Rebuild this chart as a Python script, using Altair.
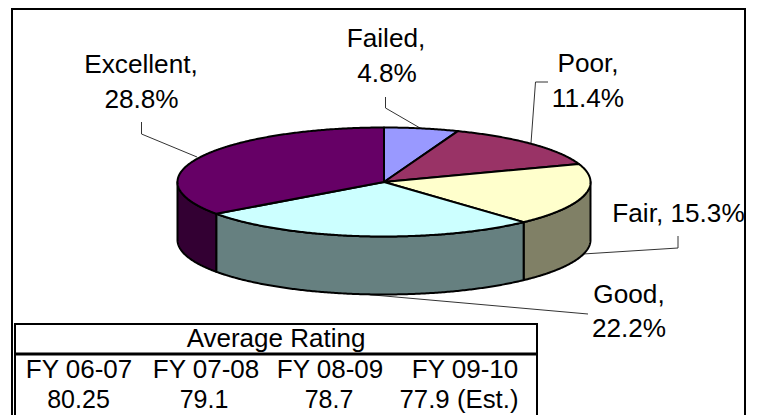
import math
import altair as alt
import pandas as pd

# --- chart values ---
names = ["Failed", "Poor", "Fair", "Good", "Excellent"]
shares = [4.8, 11.4, 15.3, 22.2, 28.8]
top_colors = ["#9999FF", "#993366", "#FFFFCC", "#CCFFFF", "#660066"]
side_colors = ["#4D4D80", "#4D1A33", "#808066", "#668080", "#330033"]
table_title = "Average Rating"
table_years = ["FY 06-07", "FY 07-08", "FY 08-09", "FY 09-10"]
table_values = ["80.25", "79.1", "78.7", "77.9 (Est.)"]

# --- layout (page pixels of the picture) ---
W, H = 741, 407
CX, CY, RX, RY, DEPTH = 384, 182, 206.5, 54.5, 58
x_scale = alt.Scale(domain=[8, 8 + W], range=[0, W], nice=False, zero=False)
y_scale = alt.Scale(domain=[8, 8 + H], range=[0, H], nice=False, zero=False)
X = lambda f="x": alt.X(f"{f}:Q", scale=x_scale, axis=None)
Y = lambda f="y": alt.Y(f"{f}:Q", scale=y_scale, axis=None)


def rim(deg, drop=0.0):
    a = math.radians(deg)
    return CX + RX * math.sin(a), CY - RY * math.cos(a) + drop


def arc_degrees(a, b):
    n = max(2, int(abs(b - a) * 2))
    return [a + (b - a) * k / n for k in range(n + 1)]


def polygon(points, color, width=2.0):
    df = pd.DataFrame(points, columns=["x", "y"]).reset_index(names="i")
    return alt.Chart(df).mark_line(
        fill=color, stroke="black", strokeWidth=width,
        interpolate="linear-closed", strokeJoin="round", clip=False,
    ).encode(x=X(), y=Y(), order="i:Q")


def polyline(points, color="#333333", width=1.0):
    df = pd.DataFrame(points, columns=["x", "y"]).reset_index(names="i")
    return alt.Chart(df).mark_line(color=color, strokeWidth=width).encode(
        x=X(), y=Y(), order="i:Q")


total = sum(shares)
edges = [0.0]
for s in shares:
    edges.append(edges[-1] + 360 * s / total)

layers = []

# frame
layers.append(polyline([(12, 420), (12, 9), (745, 9), (745, 420)], "black", 2))
layers.append(polyline([(15, 420), (15, 324), (537, 324), (537, 420)], "black", 2))
layers.append(polyline([(15, 354), (537, 354)], "black", 3))

# leader lines
leaders = [
    [(385.5, 97), (385.5, 108), (420, 128)],
    [(531, 143), (535.5, 82), (548, 82)],
    [(583, 254), (678, 248), (678, 236)],
    [(362, 294), (588, 314)],
    [(141.5, 122), (141.5, 134), (197, 157)],
]
for pts in leaders:
    layers.append(polyline(pts))

# side walls (only the part of each slice that faces the viewer)
for i in range(len(shares)):
    a, b = max(edges[i], 90), min(edges[i + 1], 270)
    if b > a:
        degs = arc_degrees(a, b)
        pts = [rim(d) for d in degs] + [rim(d, DEPTH) for d in reversed(degs)]
        layers.append(polygon(pts, side_colors[i]))

# top faces
for i in range(len(shares)):
    pts = [(CX, CY)] + [rim(d) for d in arc_degrees(edges[i], edges[i + 1])]
    layers.append(polygon(pts, top_colors[i]))

# texts
LABEL, CELL = 26.2, 26
text_rows = [
    (f"{names[0]},", 386, 47, LABEL), (f"{shares[0]}%", 387, 82, LABEL),
    (f"{names[1]},", 588, 72, LABEL), (f"{shares[1]}%", 588, 107, LABEL),
    (f"{names[2]}, {shares[2]}%", 678.5, 222, LABEL),
    (f"{names[3]},", 629, 303, LABEL), (f"{shares[3]}%", 629, 337, LABEL),
    (f"{names[4]},", 141, 73, LABEL), (f"{shares[4]}%", 141.5, 108, LABEL),
    (table_title, 276, 347, CELL),
]
for t, cx in zip(table_years, [79, 206, 330, 465]):
    text_rows.append((t, cx, 378, CELL))
for t, cx, sz in zip(table_values, [78.5, 204, 329, 459], [25, 25, 25, 25.8]):
    text_rows.append((t, cx, 408, sz))
text_df = pd.DataFrame(text_rows, columns=["t", "x", "y", "s"])
layers.append(
    alt.Chart(text_df).mark_text(
        font="Liberation Sans", align="center", baseline="alphabetic", color="black"
    ).encode(x=X(), y=Y(), text="t:N", size=alt.Size("s:Q", scale=None, legend=None))
)

chart = alt.layer(*layers).properties(
    width=W, height=H, padding=0, autosize=alt.AutoSizeParams(type="none"),
    background="white",
).configure_view(stroke=None)

chart.save("out.html", embed_options={"renderer": "svg", "actions": False})
